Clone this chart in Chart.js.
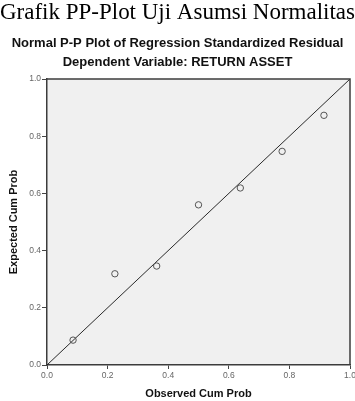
<!DOCTYPE html>
<html lang="id">
<head>
  <meta charset="UTF-8">
  <title>Normal P-P Plot</title>
  <style>
    html, body { margin: 0; padding: 0; background: #fff; }
    canvas { display: block; }
  </style>
</head>
<body>
  <canvas id="ppChart" width="355" height="401"></canvas>
  <script src="https://cdn.jsdelivr.net/npm/chart.js"></script>
  <script>
    // Data
    var observedCumProb = [0.086, 0.224, 0.362, 0.500, 0.638, 0.776, 0.914];
    var expectedCumProb = [0.087, 0.319, 0.346, 0.560, 0.619, 0.747, 0.873];
    var refLineX = [0, 1];
    var refLineY = [0, 1];
    var tickValues = [0, 0.2, 0.4, 0.6, 0.8, 1.0];

    var sans = "'Liberation Sans', Arial, sans-serif";

    var points = observedCumProb.map(function(x, i) {
      return {x: x, y: expectedCumProb[i]};
    });
    var refLine = refLineX.map(function(x, i) {
      return {x: x, y: refLineY[i]};
    });

    // latar abu-abu dan bingkai area plot
    var plotFrame = {
      id: 'plotFrame',
      beforeDraw: function(chart) {
        var a = chart.chartArea, ctx = chart.ctx;
        ctx.save();
        ctx.fillStyle = '#f0f0f0';
        ctx.fillRect(a.left, a.top, a.right - a.left, a.bottom - a.top);
        ctx.restore();
      },
      afterDraw: function(chart) {
        var a = chart.chartArea, ctx = chart.ctx;
        ctx.save();
        ctx.strokeStyle = '#3c3c3c';
        ctx.lineWidth = 1.5;
        ctx.beginPath();
        ctx.moveTo(a.left, a.top);
        ctx.lineTo(a.right, a.top);
        ctx.lineTo(a.right, a.bottom);
        ctx.stroke();
        ctx.restore();
      }
    };

    function setTicks(scale) {
      scale.ticks = tickValues.map(function(v) { return {value: v}; });
    }

    var ctx = document.getElementById('ppChart').getContext('2d');
    var ppChart = new Chart(ctx, {
      type: 'scatter',
      data: {
        datasets: [{
          label: 'Observed',
          data: points,
          pointStyle: 'circle',
          pointRadius: 3.2,
          pointBorderWidth: 1,
          pointBorderColor: '#555',
          pointBackgroundColor: 'rgba(0,0,0,0)',
          showLine: false
        }, {
          label: 'Diagonal',
          type: 'line',
          data: refLine,
          borderColor: '#2a2a2a',
          borderWidth: 1,
          pointRadius: 0,
          fill: false
        }]
      },
      options: {
        responsive: false,
        animation: false,
        layout: { padding: 0 },
        plugins: {
          legend: { display: false },
          tooltip: { enabled: false },
          title: {
            display: true,
            text: 'Grafik PP-Plot Uji Asumsi Normalitas',
            color: '#000',
            font: { family: "'Liberation Serif', 'Times New Roman', serif", size: 24, weight: 'normal', lineHeight: 1 },
            padding: { top: 1, bottom: 9 }
          },
          subtitle: {
            display: true,
            text: ['Normal P-P Plot of Regression Standardized Residual', 'Dependent Variable: RETURN ASSET'],
            color: '#111',
            font: { family: sans, size: 13, weight: 'bold', lineHeight: 19 / 13 },
            padding: { top: 0, bottom: 7 }
          }
        },
        scales: {
          x: {
            type: 'linear',
            min: 0,
            max: 1,
            afterBuildTicks: setTicks,
            afterFit: function(scale) { scale.height = 36; scale.paddingLeft = 0; scale.paddingRight = 0; },
            grid: { display: true, drawOnChartArea: false, drawTicks: true, tickLength: 4, color: '#444', lineWidth: 1 },
            border: { display: true, color: '#3c3c3c', width: 1.5 },
            ticks: {
              padding: 2,
              color: '#666',
              font: { family: sans, size: 8.5 },
              maxRotation: 0,
              callback: function(v) { return v.toFixed(1); }
            },
            title: {
              display: true,
              text: 'Observed Cum Prob',
              color: '#111',
              font: { family: sans, size: 11, weight: 'bold' },
              padding: { top: 0, bottom: 0 }
            }
          },
          y: {
            type: 'linear',
            min: 0,
            max: 1,
            afterBuildTicks: setTicks,
            afterFit: function(scale) { scale.width = 47; scale.paddingTop = 0; scale.paddingBottom = 0; },
            grid: { display: true, drawOnChartArea: false, drawTicks: true, tickLength: 5, color: '#444', lineWidth: 1 },
            border: { display: true, color: '#3c3c3c', width: 1.5 },
            ticks: {
              padding: 1,
              color: '#666',
              font: { family: sans, size: 8.5 },
              callback: function(v) { return v.toFixed(1); }
            },
            title: {
              display: true,
              text: 'Expected Cum Prob',
              color: '#111',
              font: { family: sans, size: 11, weight: 'bold' },
              padding: { top: 7, bottom: 0 }
            }
          },
          // sumbu kanan kosong, hanya memberi jarak 5px di kanan area plot
          yRight: {
            type: 'linear',
            position: 'right',
            min: 0,
            max: 1,
            afterFit: function(scale) { scale.width = 5; scale.paddingTop = 0; scale.paddingBottom = 0; },
            grid: { display: false },
            border: { display: false },
            ticks: { display: false },
            title: { display: false }
          }
        }
      },
      plugins: [plotFrame]
    });
  </script>
</body>
</html>
